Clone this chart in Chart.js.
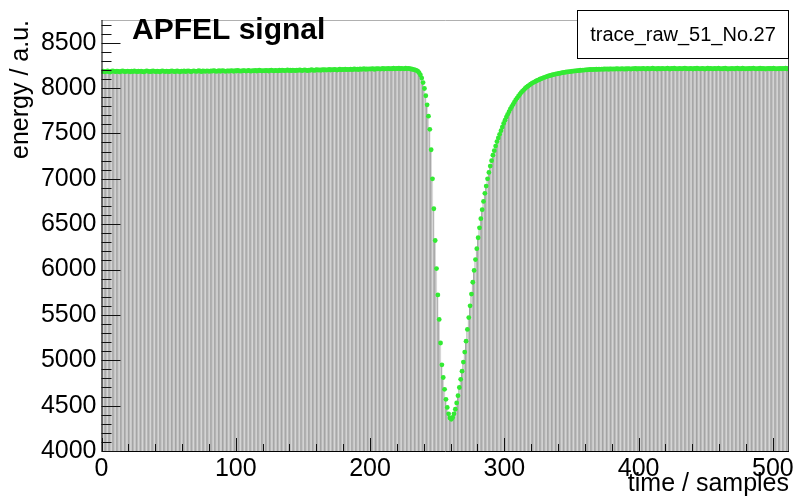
<!DOCTYPE html>
<html>
<head>
<meta charset="utf-8">
<script src="https://cdn.jsdelivr.net/npm/chart.js@4.4.1/dist/chart.umd.min.js"></script>
<style>
    html, body { margin: 0; padding: 0; background: #fff; }
    #wrap { width: 798px; height: 502px; }
</style>
</head>
<body>
<div id="wrap"><canvas id="myChart" width="798" height="502"></canvas></div>
<script>
// raw trace, one value per sample (bin i spans i..i+1)
var energy = [
    8182, 8186, 8179, 8184, 8188, 8181, 8177, 8185, 8190, 8183, 8180, 8186, 8184, 8178, 8183, 8189,
    8185, 8181, 8184, 8187, 8183, 8179, 8186, 8182, 8188, 8184, 8180, 8185, 8183, 8187, 8181, 8178,
    8184, 8189, 8186, 8182, 8180, 8185, 8188, 8184, 8181, 8186, 8183, 8179, 8185, 8190, 8184, 8182,
    8187, 8183, 8180, 8186, 8189, 8184, 8181, 8185, 8188, 8183, 8179, 8186, 8184, 8188, 8182, 8185,
    8190, 8186, 8181, 8184, 8189, 8187, 8183, 8186, 8191, 8185, 8182, 8188, 8186, 8184, 8190, 8187,
    8183, 8189, 8186, 8192, 8188, 8184, 8187, 8191, 8185, 8189, 8193, 8187, 8184, 8190, 8188, 8186,
    8192, 8189, 8185, 8191, 8188, 8194, 8190, 8186, 8189, 8193, 8191, 8187, 8190, 8195, 8189, 8186,
    8192, 8190, 8194, 8188, 8191, 8196, 8192, 8189, 8193, 8190, 8195, 8191, 8188, 8194, 8197, 8192,
    8189, 8195, 8193, 8190, 8196, 8192, 8198, 8194, 8191, 8195, 8199, 8193, 8196, 8192, 8197, 8195,
    8191, 8198, 8194, 8200, 8196, 8193, 8197, 8201, 8195, 8192, 8198, 8196, 8202, 8197, 8194, 8199,
    8203, 8197, 8200, 8196, 8202, 8199, 8204, 8198, 8201, 8205, 8199, 8203, 8200, 8206, 8202, 8198,
    8204, 8207, 8201, 8205, 8203, 8208, 8202, 8206, 8204, 8209, 8203, 8207, 8210, 8205, 8208, 8204,
    8211, 8207, 8209, 8213, 8206, 8210, 8208, 8212, 8209, 8214, 8210, 8207, 8213, 8211, 8215, 8209,
    8212, 8216, 8210, 8214, 8212, 8217, 8211, 8215, 8213, 8218, 8212, 8216, 8214, 8219, 8213, 8217,
    8215, 8212, 8218, 8214, 8216, 8213, 8210, 8207, 8204, 8200, 8194, 8185, 8170, 8145, 8110, 8060,
    7995, 7915, 7815, 7690, 7545, 7320, 7000, 6670, 6320, 6010, 5720, 5450, 5190, 4950, 4810, 4680,
    4570, 4480, 4410, 4365, 4350, 4370, 4410, 4460, 4530, 4610, 4700, 4790, 4880, 4980, 5090, 5210,
    5340, 5470, 5600, 5730, 5860, 5990, 6110, 6230, 6350, 6460, 6560, 6660, 6750, 6840, 6920, 7000,
    7070, 7140, 7200, 7260, 7310, 7360, 7410, 7450, 7490, 7530, 7570, 7610, 7645, 7680, 7710, 7740,
    7770, 7795, 7820, 7845, 7870, 7890, 7910, 7930, 7950, 7965, 7980, 7995, 8010, 8020, 8030, 8042,
    8052, 8060, 8068, 8076, 8083, 8090, 8097, 8103, 8110, 8116, 8121, 8126, 8131, 8136, 8140, 8144,
    8149, 8151, 8156, 8157, 8162, 8163, 8168, 8169, 8173, 8174, 8178, 8178, 8182, 8182, 8186, 8186,
    8190, 8189, 8193, 8192, 8196, 8195, 8198, 8198, 8201, 8200, 8203, 8202, 8205, 8203, 8206, 8205,
    8207, 8205, 8208, 8206, 8209, 8207, 8210, 8208, 8211, 8207, 8210, 8212, 8208, 8211, 8209, 8213,
    8210, 8212, 8209, 8214, 8211, 8208, 8213, 8210, 8215, 8211, 8209, 8214, 8212, 8216, 8210, 8213,
    8215, 8211, 8214, 8217, 8212, 8210, 8216, 8213, 8211, 8215, 8218, 8212, 8214, 8210, 8216, 8213,
    8211, 8217, 8214, 8212, 8215, 8219, 8213, 8210, 8216, 8214, 8218, 8212, 8215, 8211, 8217, 8214,
    8212, 8216, 8219, 8213, 8215, 8211, 8217, 8214, 8210, 8216, 8213, 8218, 8215, 8212, 8214, 8217,
    8213, 8210, 8215, 8218, 8212, 8216, 8214, 8211, 8217, 8213, 8215, 8219, 8212, 8214, 8211, 8216,
    8218, 8213, 8210, 8215, 8212, 8217, 8214, 8211, 8216, 8219, 8213, 8215, 8212, 8218, 8214, 8211,
    8215, 8213, 8217, 8212, 8216, 8219, 8214, 8211, 8215, 8213, 8218, 8212, 8216, 8214, 8210, 8215,
    8217, 8213, 8216, 8212, 8218, 8214, 8211, 8215, 8213, 8217, 8212, 8216, 8214, 8218, 8213, 8215
];
var xTicks = [0, 100, 200, 300, 400, 500];
var yTicks = [4000, 4500, 5000, 5500, 6000, 6500, 7000, 7500, 8000, 8500];
var xRange = [0, 512];
var yRange = [4000, 8750];
var plotTitle = 'APFEL signal';
var traceName = 'trace_raw_51_No.27';

var FONT = "'Liberation Sans', Arial, Helvetica, sans-serif";

// bin centers
var bins = energy.map(function (v, i) { return { x: i + 0.5, y: v }; });

// ROOT-like frame, inner ticks, title and name box
var rootFrame = {
    id: 'rootFrame',
    afterDraw: function (chart) {
        var ctx = chart.ctx, a = chart.chartArea;
        var xs = chart.scales.x, ys = chart.scales.y;
        ctx.save();
        ctx.lineWidth = 1;

        // frame
        ctx.strokeStyle = '#b0b0b0';
        ctx.beginPath(); ctx.moveTo(a.left, a.top + 0.5); ctx.lineTo(a.right, a.top + 0.5); ctx.stroke();
        ctx.strokeStyle = '#444';
        ctx.beginPath(); ctx.moveTo(a.right - 0.5, a.top); ctx.lineTo(a.right - 0.5, a.bottom); ctx.stroke();
        ctx.strokeStyle = '#000';
        ctx.beginPath();
        ctx.moveTo(a.left + 0.5, a.top); ctx.lineTo(a.left + 0.5, a.bottom + 0.5);
        ctx.lineTo(a.right, a.bottom + 0.5);
        ctx.stroke();

        // ticks
        ctx.strokeStyle = '#111';
        ctx.beginPath();
        for (var v = xRange[0]; v <= xRange[1]; v += 20) {
            var px = Math.round(xs.getPixelForValue(v)) + 0.5;
            var len = v % 100 === 0 ? 13 : 7;
            ctx.moveTo(px, a.bottom); ctx.lineTo(px, a.bottom - len);
        }
        for (var w = yRange[0]; w <= yRange[1]; w += 100) {
            var py = Math.round(ys.getPixelForValue(w)) + 0.5;
            var l2 = w % 500 === 0 ? 19 : 10;
            ctx.moveTo(a.left, py); ctx.lineTo(a.left + l2, py);
        }
        ctx.stroke();

        // title
        ctx.fillStyle = '#000';
        ctx.font = 'bold 30px ' + FONT;
        ctx.textAlign = 'left';
        ctx.textBaseline = 'alphabetic';
        ctx.fillText(plotTitle, 132, 39);

        // name box
        ctx.fillStyle = '#fff';
        ctx.fillRect(577, 10, 211, 48);
        ctx.strokeStyle = '#000';
        ctx.strokeRect(577.5, 10.5, 211, 48);
        ctx.fillStyle = '#000';
        ctx.font = '20px ' + FONT;
        ctx.textAlign = 'center';
        ctx.fillText(traceName, 683, 41);
        ctx.restore();
    }
};

var ctx = document.getElementById('myChart').getContext('2d');
var myChart = new Chart(ctx, {
    type: 'bar',
    data: {
        datasets: [{
            type: 'line',
            data: bins,
            showLine: false,
            pointRadius: 2.4,
            pointBorderWidth: 0,
            pointBackgroundColor: '#33ea33',
            order: 0
        }, {
            type: 'bar',
            data: bins,
            backgroundColor: '#dadada',
            borderColor: '#707070',
            borderWidth: { left: 0.5, right: 0, top: 0, bottom: 0 },
            borderSkipped: false,
            barPercentage: 1,
            categoryPercentage: 1,
            order: 1
        }]
    },
    options: {
        responsive: false,
        devicePixelRatio: 1,
        animation: false,
        layout: { padding: { top: 9, right: 9, left: 0, bottom: 0 } },
        plugins: {
            legend: { display: false },
            tooltip: { enabled: false }
        },
        scales: {
            x: {
                type: 'linear',
                offset: false,
                min: xRange[0],
                max: xRange[1],
                grid: { display: false, drawTicks: false, tickLength: 0 },
                border: { display: false },
                afterBuildTicks: function (s) { s.ticks = xTicks.map(function (v) { return { value: v }; }); },
                afterFit: function (s) { s.height = 51; },
                ticks: {
                    color: '#000',
                    font: { family: FONT, size: 25 },
                    padding: 3,
                    maxRotation: 0,
                    autoSkip: false,
                    callback: function (v) { return String(v); }
                },
                title: {
                    display: true,
                    text: 'time / samples',
                    align: 'end',
                    color: '#000',
                    font: { family: FONT, size: 25 },
                    padding: { top: 0, bottom: 3 }
                }
            },
            y: {
                min: yRange[0],
                max: yRange[1],
                beginAtZero: false,
                grid: { display: false, drawTicks: false, tickLength: 0 },
                border: { display: false },
                afterBuildTicks: function (s) { s.ticks = yTicks.map(function (v) { return { value: v }; }); },
                afterFit: function (s) { s.width = 101.5; },
                ticks: {
                    color: '#000',
                    font: { family: FONT, size: 25 },
                    padding: 5,
                    autoSkip: false,
                    callback: function (v) { return String(v); }
                },
                title: {
                    display: true,
                    text: 'energy / a.u.',
                    align: 'end',
                    color: '#000',
                    font: { family: FONT, size: 25 },
                    padding: { top: 6, bottom: 0 }
                }
            }
        }
    },
    plugins: [rootFrame]
});
</script>
</body>
</html>
